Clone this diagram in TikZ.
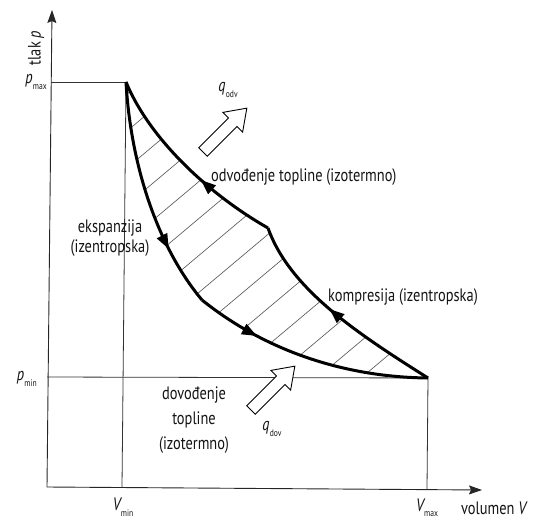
\documentclass[tikz,border=0pt]{standalone}
\usepackage{fontspec}
\setmainfont{PT Sans}[FakeStretch=0.8]
\usetikzlibrary{arrows.meta,decorations.markings}

\newcommand{\lbsub}[2]{{\itshape #1}\kern0.3pt\raisebox{-0.6ex}{\fontsize{9.5}{9.5}\selectfont #2}}

\begin{document}
\begin{tikzpicture}[x=1pt,y=-1pt,
  thinline/.style={line width=0.8pt, black!80},
  axisline/.style={line width=0.9pt, black!85, -{Stealth[length=13pt,width=9pt,inset=2pt]}},
  cycleline/.style={line width=3pt, line join=round},
  midarrow/.style={postaction={decorate, decoration={markings, mark=at position #1 with {\arrow{Triangle[length=15pt,width=11pt]}}}}},
  hatch/.style={line width=0.65pt, black!65},
  heat/.style={line width=0.9pt, fill=white, line join=miter},
  lab/.style={font=\fontsize{18}{20}\selectfont, inner sep=0pt, text=black!92}
]
\useasboundingbox (0,0) rectangle (534,521);

\coordinate (P1) at (126,82);
\coordinate (K1) at (202,300);
\coordinate (P3) at (428,378);
\coordinate (K2) at (268,228);

% hatching
\begin{scope}
  \clip (P1) .. controls (131,170) and (160,250) .. (K1)
        .. controls (258,345) and (335,377) .. (P3)
        .. controls (360,335) and (290,290) .. (K2)
        .. controls (210,195) and (150,140) .. (P1) -- cycle;
  \foreach \k in {0,...,14}
    \draw[hatch] ({361-44*\k-100},462) -- ++(600,-504);
\end{scope}

% axes and guide lines
\draw[axisline] (47,487) -- (52,10);
\draw[axisline] (47,487) -- (482,490);
\draw[thinline] (51,82) -- (P1);
\draw[thinline] (P1) -- (122,487);
\draw[thinline] (47,377) -- (P3);
\draw[thinline] (P3) -- (427,489);

% cycle
\draw[cycleline, midarrow=0.74] (P1) .. controls (131,170) and (160,250) .. (K1);
\draw[cycleline, midarrow=0.27] (K1) .. controls (258,345) and (335,377) .. (P3);
\draw[cycleline, midarrow=0.54] (P3) .. controls (360,335) and (290,290) .. (K2);
\draw[cycleline, midarrow=0.40] (K2) .. controls (210,195) and (150,140) .. (P1);

% heat arrows
\begin{scope}[shift={(203,152)},rotate=45]
  \draw[heat] (0,-6) -- (42,-6) -- (42,-14) -- (62,0) -- (42,14) -- (42,6) -- (0,6) -- cycle;
\end{scope}
\begin{scope}[shift={(251,410)},rotate=45]
  \draw[heat] (0,-6) -- (42,-6) -- (42,-14) -- (62,0) -- (42,14) -- (42,6) -- (0,6) -- cycle;
\end{scope}

% labels
\node[lab, rotate=90] (tlak) at (36,48) {tlak \textit{p}};
\node[lab, anchor=east] (pmax) at (47,82) {\lbsub{p}{max}};
\node[lab, anchor=east] (pmin) at (37,379) {\lbsub{p}{min}};
\node[lab] (vmin) at (123,507) {\lbsub{V}{min}};
\node[lab] (vmax) at (427,508) {\lbsub{V}{max}};
\node[lab, anchor=west] (vol) at (461,508) {volumen \textit{V}};
\node[lab, align=center] (eks) at (110,238) {ekspanzija\\(izentropska)};
\node[lab, anchor=west] (odv) at (211,177) {odvođenje topline (izotermno)};
\node[lab, anchor=west] (komp) at (328,297) {kompresija (izentropska)};
\node[lab, align=center] (dov) at (194,420) {dovođenje\\[5pt]topline\\[5pt](izotermno)};
\node[lab] (qodv) at (228,90) {\lbsub{q}{odv}};
\node[lab] (qdov) at (272,429) {\lbsub{q}{dov}};
\end{tikzpicture}
\end{document}
